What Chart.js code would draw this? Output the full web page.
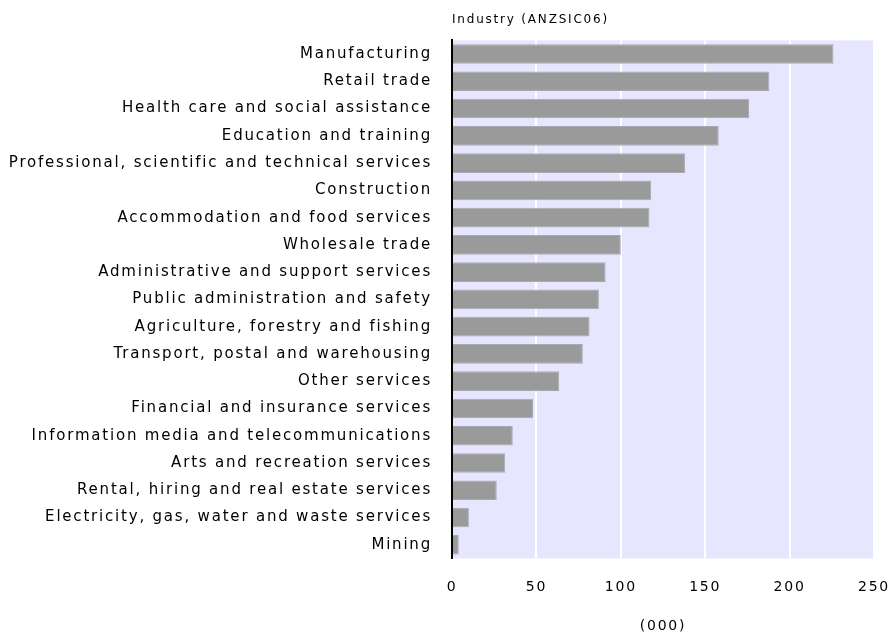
<!DOCTYPE html>
<html>
<head>
<meta charset="utf-8">
<script src="https://cdn.jsdelivr.net/npm/chart.js@4"></script>
<style>
  html, body { margin: 0; padding: 0; background: #fff; }
  #wrap { width: 892px; height: 637px; }
</style>
</head>
<body>
<div id="wrap"><canvas id="chart"></canvas></div>
<script>
const industries = [
    'Manufacturing',
    'Retail trade',
    'Health care and social assistance',
    'Education and training',
    'Professional, scientific and technical services',
    'Construction',
    'Accommodation and food services',
    'Wholesale trade',
    'Administrative and support services',
    'Public administration and safety',
    'Agriculture, forestry and fishing',
    'Transport, postal and warehousing',
    'Other services',
    'Financial and insurance services',
    'Information media and telecommunications',
    'Arts and recreation services',
    'Rental, hiring and real estate services',
    'Electricity, gas, water and waste services',
    'Mining'
];
const employed = [226, 188, 176, 158, 138, 118, 117, 100, 91, 87, 81.5, 77.5, 63.5, 48, 36, 31.5, 26.5, 10, 4];
const xTicks = [0, 50, 100, 150, 200, 250];

const fontFamily = '"DejaVu Sans", Verdana, sans-serif';

// canvas letter spacing, the original text is widely spaced
const spacing = {
    id: 'spacing',
    beforeLayout(chart) { chart.ctx.letterSpacing = '1.8px'; },
    beforeDraw(chart) { chart.ctx.letterSpacing = '1.8px'; }
};

// lavender plot background
const plotBg = {
    id: 'plotBg',
    beforeDraw(chart) {
        const a = chart.chartArea;
        const ctx = chart.ctx;
        ctx.save();
        ctx.fillStyle = '#e6e6ff';
        ctx.fillRect(a.left, a.top, a.right - a.left, a.bottom - a.top);
        ctx.restore();
    }
};

const ctx = document.getElementById('chart').getContext('2d');
new Chart(ctx, {
    type: 'bar',
    data: {
        labels: industries,
        datasets: [{
            label: 'Employed',
            data: employed,
            backgroundColor: '#9a9a9a',
            borderColor: '#a8a8b4',
            borderWidth: 1,
            borderSkipped: 'left',
            barPercentage: 0.75,
            categoryPercentage: 0.96
        }]
    },
    options: {
        indexAxis: 'y',
        responsive: true,
        maintainAspectRatio: false,
        animation: false,
        layout: {
            padding: { left: 10, right: 18, top: 7, bottom: 2 }
        },
        scales: {
            x: {
                min: 0,
                max: 250,
                afterBuildTicks(scale) {
                    scale.ticks = xTicks.map(v => ({ value: v }));
                },
                afterFit(scale) {
                    scale.paddingLeft = 0;
                    scale.paddingRight = 0;
                },
                grid: {
                    color: '#ffffff',
                    lineWidth: 2,
                    drawTicks: false
                },
                border: { display: false },
                ticks: {
                    color: '#000',
                    padding: 21,
                    font: { family: fontFamily, size: 14 }
                },
                title: {
                    display: true,
                    text: '(000)',
                    color: '#000',
                    padding: { top: 1, bottom: 0 },
                    font: { family: fontFamily, size: 14 }
                }
            },
            y: {
                // labels are long, keep the axis wider than the default cap
                afterFit(scale) { scale.width = 442; },
                grid: { display: false, drawTicks: false },
                border: { display: true, color: '#000', width: 2 },
                ticks: {
                    color: '#000',
                    padding: 20,
                    autoSkip: false,
                    font: { family: fontFamily, size: 15 }
                }
            }
        },
        plugins: {
            legend: { display: false },
            tooltip: { enabled: false },
            title: {
                display: true,
                text: 'Industry (ANZSIC06)',
                align: 'start',
                fullSize: false,
                color: '#000',
                padding: { top: 6, bottom: 13 },
                font: { family: fontFamily, size: 12, weight: 'normal' }
            }
        }
    },
    plugins: [spacing, plotBg]
});
</script>
</body>
</html>
